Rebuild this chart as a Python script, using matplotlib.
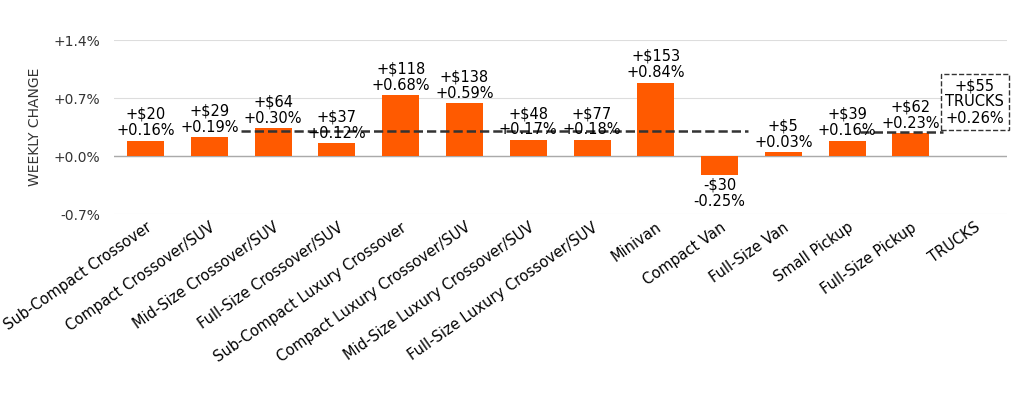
import numpy as np
import matplotlib.pyplot as plt

categories = ["Sub-Compact Crossover", "Compact Crossover/SUV", "Mid-Size Crossover/SUV",
              "Full-Size Crossover/SUV", "Sub-Compact Luxury Crossover", "Compact Luxury Crossover/SUV",
              "Mid-Size Luxury Crossover/SUV", "Full-Size Luxury Crossover/SUV", "Minivan",
              "Compact Van", "Full-Size Van", "Small Pickup", "Full-Size Pickup", "TRUCKS"]
bar_pct = [0.19, 0.23, 0.34, 0.16, 0.74, 0.64, 0.20, 0.20, 0.89, -0.23, 0.05, 0.19, 0.28, np.nan]
dollar_labels = ["+$20", "+$29", "+$64", "+$37", "+$118", "+$138", "+$48", "+$77", "+$153",
                 "-$30", "+$5", "+$39", "+$62", "+$55"]
pct_labels = ["+0.16%", "+0.19%", "+0.30%", "+0.12%", "+0.68%", "+0.59%", "+0.17%", "+0.18%",
              "+0.84%", "-0.25%", "+0.03%", "+0.16%", "+0.23%", "+0.26%"]
suv_avg = 0.30
truck_avg = 0.29

orange = "#FF5A00"
fig = plt.figure(figsize=(10.24, 4.12), dpi=100)
ax = fig.add_axes([0.111, 0.48, 0.872, 0.422])
x = np.arange(len(categories))
ax.bar(x, bar_pct, width=0.58, color=orange, zorder=3)
ax.set_xlim(-0.5, len(categories) - 0.5)
ax.set_ylim(-0.7, 1.4)
ticks = [-0.7, 0.0, 0.7, 1.4]
ax.set_yticks(ticks)
ax.set_yticklabels(["-0.7%", "+0.0%", "+0.7%", "+1.4%"], fontsize=10, color="#333333")
ax.grid(axis="y", color="#dddddd", lw=0.8, zorder=0)
ax.axhline(0, color="#aaaaaa", lw=1, zorder=2)
for s in ax.spines.values():
    s.set_visible(False)
ax.tick_params(length=0, pad=10)
ax.set_ylabel("WEEKLY CHANGE", fontsize=10, color="#333333", labelpad=8)
ax.set_xticks(x)
ax.set_xticklabels(categories, rotation=35, ha="right", rotation_mode="anchor", fontsize=10.5)
ax.tick_params(axis="x", pad=4)

ax.plot([1.5, 9.45], [suv_avg, suv_avg], ls="--", color="#333333", lw=1.8, zorder=4)
ax.plot([11.2, 12.5], [truck_avg, truck_avg], ls="--", color="#333333", lw=1.8, zorder=4)

for i in range(len(categories) - 1):
    txt = dollar_labels[i] + "\n" + pct_labels[i]
    h = bar_pct[i]
    if h >= 0:
        ax.text(i, h + 0.03, txt, ha="center", va="bottom", fontsize=10.5, linespacing=1.1, zorder=5)
    else:
        ax.text(i, h - 0.03, txt, ha="center", va="top", fontsize=10.5, linespacing=1.1, zorder=5)
i = len(categories) - 1
ax.text(i, 0.37, dollar_labels[i] + "\nTRUCKS\n" + pct_labels[i], ha="center", va="bottom",
        fontsize=10.5, linespacing=1.1, zorder=5,
        bbox=dict(boxstyle="square,pad=0.3", fc="white", ec="#333333", ls="--", lw=1))

fig.savefig("out.png")
